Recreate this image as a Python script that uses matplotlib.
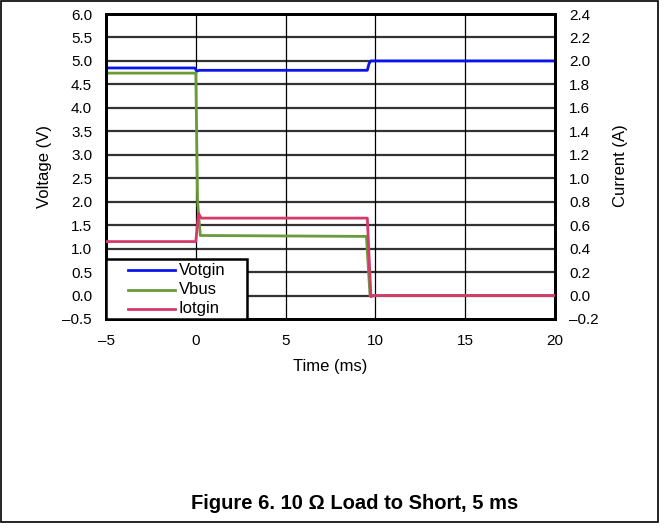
import matplotlib
matplotlib.use('Agg')
import matplotlib.pyplot as plt
from matplotlib.patches import Rectangle
from matplotlib.lines import Line2D

plt.rcParams['font.family'] = ['Liberation Sans', 'DejaVu Sans']
plt.rcParams['axes.unicode_minus'] = False

t_votgin = [-5, -0.05, 0.05, 0.2, 9.55, 9.65, 9.75, 20]
v_votgin = [4.85, 4.85, 4.78, 4.80, 4.80, 4.95, 5.00, 5.00]

t_vbus = [-5, 0.0, 0.1, 0.25, 9.5, 9.7, 20]
v_vbus = [4.74, 4.74, 2.0, 1.28, 1.26, 0.0, 0.0]

t_iotgin = [-5, 0.0, 0.15, 0.3, 9.55, 9.75, 9.9, 20]
i_iotgin = [0.46, 0.46, 0.70, 0.66, 0.66, -0.01, 0.0, 0.0]

labels = ['Votgin', 'Vbus', 'Iotgin']
colors = ['#0a14f0', '#6a9a3a', '#d43a6a']

x_ticks = [-5, 0, 5, 10, 15, 20]
v_ticks = [-0.5, 0.0, 0.5, 1.0, 1.5, 2.0, 2.5, 3.0, 3.5, 4.0, 4.5, 5.0, 5.5, 6.0]
i_ticks = [-0.2, 0.0, 0.2, 0.4, 0.6, 0.8, 1.0, 1.2, 1.4, 1.6, 1.8, 2.0, 2.2, 2.4]

def fmt(v):
    return f"{v:.1f}".replace('-', '\u2013')

W, H = 669, 529
fig = plt.figure(figsize=(W / 100, H / 100), dpi=100)

def fx(px): return px / W
def fy(py): return 1 - py / H

ax = fig.add_axes([fx(106), fy(319), (555 - 106) / W, (319 - 14) / H])
ax2 = ax.twinx()

ax.set_xlim(-5, 20)
ax.set_ylim(-0.5, 6.0)
ax2.set_ylim(-0.2, 2.4)

# grid: thick grey horizontals, thin black verticals
for v in v_ticks[1:-1]:
    ax.axhline(v, color='#333333', lw=1.6, zorder=1)
for x in x_ticks[1:-1]:
    ax.axvline(x, color='black', lw=0.9, zorder=1)

ax.plot(t_votgin, v_votgin, color=colors[0], lw=2, zorder=3)
ax.plot(t_vbus, v_vbus, color=colors[1], lw=2, zorder=3)
ax2.plot(t_iotgin, i_iotgin, color=colors[2], lw=2, zorder=3)

ax.set_xticks(x_ticks)
ax.set_xticklabels([str(x).replace('-', '\u2013') for x in x_ticks])
ax.set_yticks(v_ticks)
ax.set_yticklabels([fmt(v) for v in v_ticks])
ax2.set_yticks(i_ticks)
ax2.set_yticklabels([fmt(v) for v in i_ticks])
for a in (ax, ax2):
    a.tick_params(length=0, labelsize=11, pad=10)
    for s in a.spines.values():
        s.set_linewidth(2)
ax.tick_params(axis='x', pad=11)

fig.text(fx(45), fy(166), 'Voltage (V)', rotation=90, ha='center', va='center', fontsize=12)
fig.text(fx(620), fy(166), 'Current (A)', rotation=90, ha='center', va='center', fontsize=12)
fig.text(fx(330), fy(367), 'Time (ms)', ha='center', va='center', fontsize=12)

# legend box, bottom-left corner of the plot
fig.patches.append(Rectangle((fx(106), fy(319)), 141 / W, 60 / H, transform=fig.transFigure,
                             facecolor='white', edgecolor='black', lw=1.8, zorder=10))
for k, (lab, col) in enumerate(zip(labels, colors)):
    yy = 270 + 19.5 * k
    fig.lines.append(Line2D([fx(128), fx(175)], [fy(yy), fy(yy)], transform=fig.transFigure,
                            color=col, lw=2, zorder=11))
    fig.text(fx(179), fy(yy), lab, ha='left', va='center', fontsize=12, zorder=11)

fig.text(fx(355), fy(509), 'Figure 6. 10 \u03a9 Load to Short, 5 ms',
         ha='center', va='baseline', fontsize=14.5, fontweight='bold')

fig.patches.append(Rectangle((fx(0.5), fy(522)), 657.5 / W, 521 / H,
                             transform=fig.transFigure, fill=False,
                             edgecolor='black', lw=1.2))

fig.savefig('out.png', dpi=100)
